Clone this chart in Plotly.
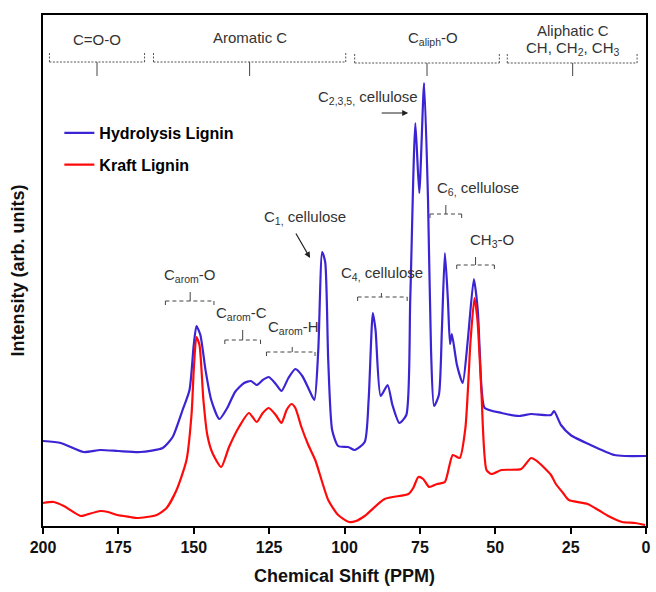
import plotly.graph_objects as go

# ---------------- data ----------------
hl_ppm = [200, 194.1, 186.5, 181, 175, 167.8, 160.3, 157, 153.7, 151.4, 150, 149.1, 147.8, 146.1,
          144.2, 141.5, 138.9, 136.3, 133.3, 131, 129.1, 127.1, 125.1, 122.8, 120.9, 118.6, 116.3,
          114, 111.7, 110, 108.7, 107.4, 106.4, 105.4, 104.1, 102.1, 98.8, 96.6, 93.3, 92, 90.6,
          89.7, 88, 85.7, 84.1, 81.8, 79.5, 78.2, 76.5, 75.2, 73.6, 72.3, 71.3, 70.3, 68.7, 67.7,
          66.7, 65.7, 65, 64.4, 62.7, 60.8, 59.1, 57.1, 55.8, 54.5, 53.5, 47.9, 42, 38.1, 31.5,
          30.5, 28.2, 25, 18.4, 10.5, 6.9, 0]
hl_int = [85, 83, 74, 76, 75, 74, 78, 89, 116, 136, 181, 200, 191, 156,
          126, 107, 118, 134, 143, 145, 141, 146, 149, 142, 135, 148, 157,
          150, 136, 126, 176, 274, 264, 166, 96, 80, 79, 76, 84, 126, 213,
          196, 130, 141, 121, 103, 111, 226, 403, 333, 443, 326, 176, 120, 131, 196,
          273, 226, 182, 192, 161, 143, 186, 247, 216, 136, 118, 113, 110, 112, 111,
          115, 101, 91, 81, 71, 70, 70]

kl_ppm = [200, 196.4, 193.1, 187.5, 185.9, 181, 178.4, 175.4, 171.1, 168.8, 162.3, 159, 155.7,
          152.4, 150.7, 150, 149.1, 148.1, 146.8, 145.5, 143.8, 140.9, 138.3, 135, 131.7, 129.1,
          127.1, 125.1, 122.8, 120.9, 119.2, 117.6, 116.3, 114.3, 112, 109.7, 105.4, 102.1, 98.5,
          96.2, 93.3, 86.7, 78.8, 77.2, 75.5, 73.9, 71.9, 69.3, 66.7, 64.1, 61.8, 59.9, 58.2,
          56.9, 55.9, 54.6, 52.9, 51.2, 48, 41.4, 38.1, 35.8, 31.5, 29.9, 27.5, 25.6, 19.4, 15.8,
          12.5, 7.9, 3.6, 0.3]
kl_int = [23, 24, 20, 10, 11, 15, 14, 11, 9, 8, 11, 18, 36,
          66, 113, 156, 189, 181, 126, 91, 73, 59, 79, 99, 113, 104,
          113, 118, 111, 103, 116, 122, 118, 99, 81, 66, 26, 11, 4,
          5, 10, 27, 32, 38, 49, 47, 39, 42, 44, 71, 68, 98, 185,
          228, 206, 135, 56, 52, 56, 57, 68, 64, 51, 42, 33, 26, 22, 16,
          10, 4, 3, 1]

x_ticks = [200, 175, 150, 125, 100, 75, 50, 25, 0]
series_names = ["Hydrolysis Lignin", "Kraft Lignin"]

# ---------------- figure ----------------
W, H = 656, 592
L, R, T, B = 42.5, 5, 15, 66
Y_MAX = 511
FONT = "Liberation Sans, Arial, sans-serif"


def X(px):  # pixel -> ppm
    return 200 - (px - L) / ((W - L - R) / 200.0)


def Y(py):  # pixel -> intensity units
    return (H - B) - py


fig = go.Figure()
fig.add_trace(go.Scatter(x=hl_ppm, y=hl_int, mode="lines", name=series_names[0],
                         legendgroup="a",
                         line=dict(color="#3B24D3", width=2.2, shape="spline", smoothing=0.6)))
fig.add_trace(go.Scatter(x=kl_ppm, y=kl_int, mode="lines", name=series_names[1],
                         legendgroup="b",
                         line=dict(color="#FF0A0A", width=2.2, shape="spline", smoothing=0.6)))

shapes = []
annots = []
TXT = dict(family=FONT, size=15, color="#333333")


def seg(x0, y0, x1, y1, dash, color="#555555", width=1):
    shapes.append(dict(type="line", xref="x", yref="y", x0=X(x0), y0=Y(y0), x1=X(x1), y1=Y(y1),
                       line=dict(color=color, width=width, dash=dash)))


def top_bracket(xl, xr, yl, ye, xc, yt):
    d = "2px,1.5px"
    seg(xl, yl, xr, yl, d)
    seg(xl, yl, xl, ye, d)
    seg(xr, yl, xr, ye, d)
    seg(xc, yl, xc, yt, "solid", "#444444", 1)


def inner_bracket(xl, xr, yl, ye, xc, yt):
    d = "4px,3px"
    seg(xl, yl, xr, yl, d, "#444444")
    seg(xl, yl, xl, ye, d, "#444444")
    seg(xr, yl, xr, ye, d, "#444444")
    seg(xc, yt, xc, yl, "solid", "#444444", 1)


def label(text, px, py):
    annots.append(dict(text=text, x=X(px), y=Y(py), xref="x", yref="y", showarrow=False,
                       font=TXT, xanchor="center", yanchor="middle"))


# top region brackets
top_bracket(49, 145, 62, 52, 97, 76)
top_bracket(154, 348, 62, 52, 251, 76)
top_bracket(357, 503, 63, 54, 430, 76)
top_bracket(511, 642, 63, 54, 577, 76)
label("C=O-O", 97, 39)
label("Aromatic C", 251, 37)
label("C<sub>aliph</sub>-O", 436, 38)
label("Aliphatic C", 577, 30)
label("CH, CH<sub>2</sub>, CH<sub>3</sub>", 577, 48)

# inner brackets
inner_bracket(166, 215, 301, 308, 191, 292)
label("C<sub>arom</sub>-O", 190, 275)
inner_bracket(226, 262, 340, 347, 244, 330)
label("C<sub>arom</sub>-C", 243, 313)
inner_bracket(268, 317, 352, 357, 294, 347)
label("C<sub>arom</sub>-H", 295, 327)
inner_bracket(360, 410, 297, 302, 384, 293)
label("C<sub>4,</sub> cellulose", 385, 273)
inner_bracket(433, 465, 214, 219, 449, 205)
label("C<sub>6,</sub> cellulose", 481, 188)
inner_bracket(460, 498, 265, 270, 479, 257)
label("CH<sub>3</sub>-O", 496, 240)
label("C<sub>2,3,5,</sub> cellulose", 370, 97)
label("C<sub>1,</sub> cellulose", 307, 217)

# arrows
annots.append(dict(text="", x=X(411), y=Y(113), xref="x", yref="y", ax=383 - 411, ay=0,
                   showarrow=True, arrowhead=2, arrowsize=1, arrowwidth=1.2, arrowcolor="#222222",
                   standoff=0, startstandoff=0))
annots.append(dict(text="", x=X(312), y=Y(258), xref="x", yref="y", ax=297 - 312, ay=232 - 258,
                   showarrow=True, arrowhead=2, arrowsize=1, arrowwidth=1.2, arrowcolor="#222222",
                   standoff=0, startstandoff=0))

fig.update_layout(
    width=W, height=H,
    margin=dict(l=L, r=R, t=T, b=B, pad=0),
    paper_bgcolor="white", plot_bgcolor="white",
    shapes=shapes, annotations=annots,
    showlegend=True,
    legend=dict(x=(59 - L) / (W - L - R), y=(H - B - 116) / Y_MAX, xanchor="left", yanchor="top",
                font=dict(family=FONT, size=16, color="black", weight="bold"),
                bgcolor="rgba(0,0,0,0)", tracegroupgap=8, itemwidth=30),
    font=dict(family=FONT),
)
fig.update_xaxes(range=[200, 0], tickvals=x_ticks, ticktext=[str(v) for v in x_ticks],
                 ticks="outside", ticklen=6, tickwidth=2, tickcolor="black",
                 showline=True, linewidth=2, linecolor="black", mirror=True,
                 showgrid=False, zeroline=False,
                 tickfont=dict(family=FONT, size=16, color="#111111", weight="bold"),
                 title=dict(text="Chemical Shift (PPM)", standoff=14,
                            font=dict(family=FONT, size=18, color="#111111", weight="bold")))
fig.update_yaxes(range=[0, Y_MAX], showticklabels=False, ticks="",
                 showline=True, linewidth=2, linecolor="black", mirror=True,
                 showgrid=False, zeroline=False,
                 title=dict(text="Intensity (arb. units)", standoff=12,
                            font=dict(family=FONT, size=18, color="#111111", weight="bold")))

fig.write_html("out.html")
